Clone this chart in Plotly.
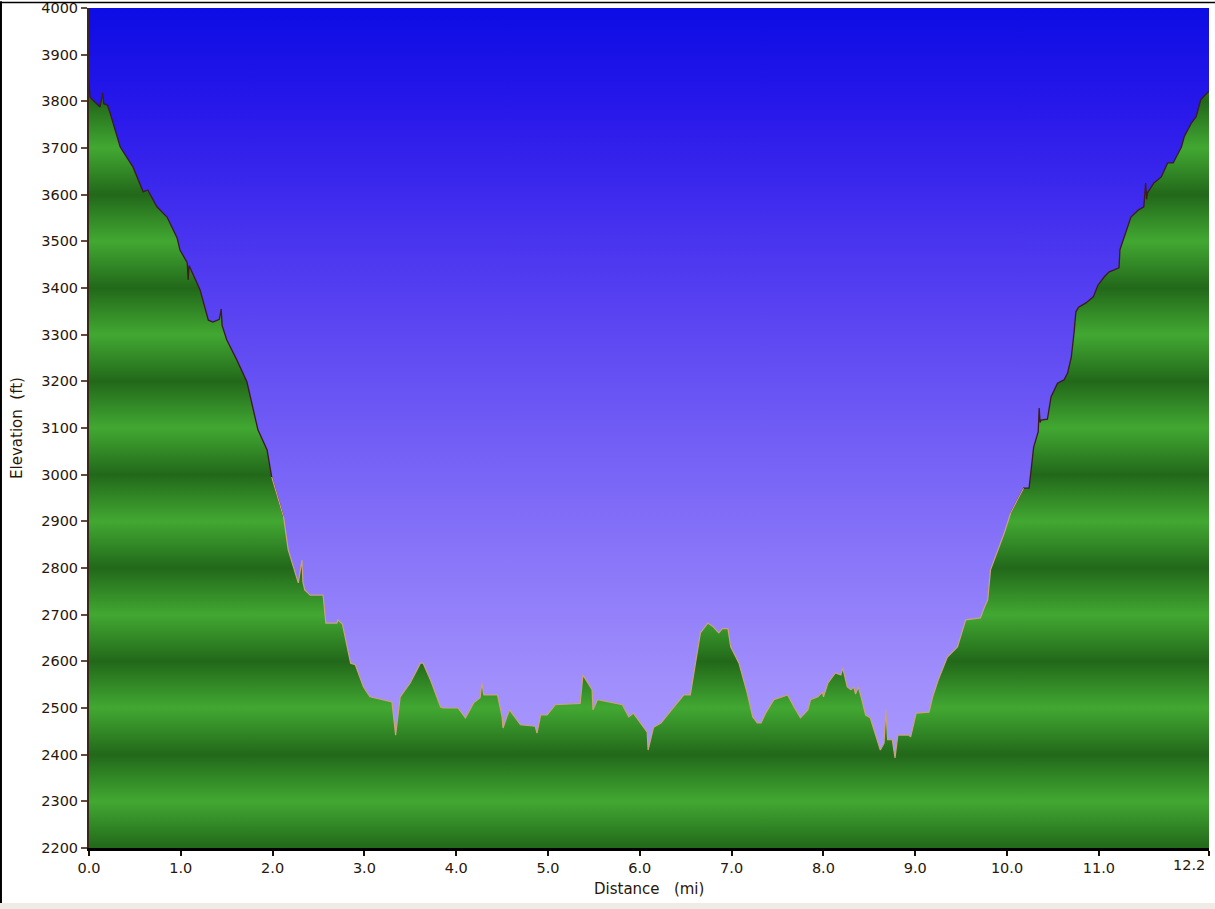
import numpy as np
import plotly.graph_objects as go

# ---------------- data ----------------
distance_mi = [
    0.00, 0.01, 0.12, 0.15, 0.16, 0.20, 0.23, 0.34, 0.48, 0.59, 0.64, 0.74, 0.85, 0.96, 0.99,
    1.07, 1.08, 1.09, 1.21, 1.30, 1.35, 1.42, 1.44, 1.45, 1.50, 1.61, 1.72, 1.84, 1.94, 1.99,
    2.12, 2.17, 2.23, 2.28, 2.32, 2.33, 2.35, 2.41, 2.55, 2.58, 2.70, 2.71, 2.76, 2.79, 2.85,
    2.90, 2.95, 2.99, 3.06, 3.14, 3.30, 3.34, 3.37, 3.39, 3.50, 3.61, 3.64, 3.72, 3.83, 3.86,
    4.02, 4.10, 4.19, 4.26, 4.28, 4.30, 4.34, 4.45, 4.50, 4.51, 4.55, 4.58, 4.70, 4.86, 4.88,
    4.92, 4.99, 5.08, 5.35, 5.38, 5.48, 5.49, 5.54, 5.68, 5.81, 5.88, 5.93, 6.08, 6.09, 6.15,
    6.23, 6.37, 6.48, 6.55, 6.61, 6.66, 6.74, 6.80, 6.86, 6.90, 6.96, 6.99, 7.08, 7.17, 7.23,
    7.28, 7.32, 7.37, 7.46, 7.61, 7.68, 7.75, 7.83, 7.86, 7.94, 7.99, 8.00, 8.05, 8.13, 8.19,
    8.21, 8.26, 8.30, 8.33, 8.35, 8.38, 8.41, 8.46, 8.51, 8.62, 8.66, 8.68, 8.70, 8.75, 8.78,
    8.81, 8.93, 8.95, 9.01, 9.15, 9.19, 9.25, 9.35, 9.46, 9.55, 9.71, 9.75, 9.79, 9.82, 9.97,
    10.04, 10.18, 10.24, 10.26, 10.29, 10.34, 10.35, 10.36, 10.37, 10.44, 10.48, 10.55, 10.62,
    10.66, 10.70, 10.73, 10.75, 10.78, 10.86, 10.94, 10.99, 11.06, 11.11, 11.22, 11.23, 11.24,
    11.35, 11.43, 11.49, 11.51, 11.52, 11.53, 11.60, 11.68, 11.75, 11.81, 11.90, 11.93, 12.01,
    12.06, 12.11, 12.19, 12.20,
]
elevation_ft = [
    3846, 3809, 3788, 3818, 3795, 3792, 3775, 3702, 3659, 3606, 3610, 3574, 3552, 3507, 3482,
    3454, 3417, 3448, 3396, 3331, 3327, 3333, 3355, 3320, 3289, 3246, 3199, 3096, 3053, 2995,
    2909, 2839, 2802, 2768, 2817, 2770, 2753, 2742, 2742, 2682, 2682, 2689, 2680, 2652, 2596,
    2593, 2567, 2545, 2524, 2520, 2513, 2442, 2489, 2524, 2554, 2596, 2596, 2560, 2502, 2500,
    2500, 2479, 2511, 2522, 2554, 2528, 2528, 2528, 2481, 2457, 2480, 2496, 2464, 2461, 2446,
    2485, 2485, 2507, 2510, 2571, 2539, 2496, 2518, 2513, 2507, 2481, 2489, 2448, 2410, 2459,
    2468, 2502, 2528, 2528, 2603, 2661, 2682, 2674, 2661, 2670, 2670, 2631, 2596, 2532, 2481,
    2468, 2468, 2489, 2518, 2528, 2502, 2479, 2496, 2518, 2524, 2534, 2524, 2554, 2575, 2571,
    2586, 2545, 2539, 2545, 2530, 2545, 2524, 2485, 2479, 2410, 2425, 2496, 2432, 2432, 2393,
    2442, 2442, 2438, 2489, 2491, 2524, 2560, 2609, 2631, 2689, 2693, 2714, 2732, 2796, 2875,
    2918, 2971, 2971, 3004, 3059, 3092, 3143, 3112, 3117, 3119, 3167, 3196, 3203,
    3218, 3252, 3304, 3349, 3359, 3368, 3381, 3406, 3424, 3434, 3443, 3482, 3488,
    3552, 3567, 3574, 3625, 3590, 3604, 3625, 3638, 3668, 3668, 3702, 3724, 3754,
    3767, 3803, 3820, 3820,
]

x_tick_vals = [0, 1, 2, 3, 4, 5, 6, 7, 8, 9, 10, 11, 12.2]
x_tick_text = ["0.0", "1.0", "2.0", "3.0", "4.0", "5.0", "6.0", "7.0", "8.0", "9.0",
               "10.0", "11.0", "12.2"]
y_tick_vals = list(range(2200, 4001, 100))

X_MIN, X_MAX = 0.0, 12.2
Y_MIN, Y_MAX = 2200, 4000

FONT = "DejaVu Sans"
TXT = "#2a1606"
TICK_SIZE = 14.5
TITLE_SIZE = 15

# ---------------- colours ----------------
dark_green = "rgb(34,104,26)"
light_green = "rgb(66,168,50)"
band_scale = []
for v in y_tick_vals:
    t = (v - Y_MIN) / (Y_MAX - Y_MIN)
    band_scale.append([t, dark_green if (v // 100) % 2 == 0 else light_green])

sky_scale = [
    [0.00, "#b2a4ff"],
    [0.20, "#a08efc"],
    [0.45, "#7864f6"],
    [0.70, "#4e38f0"],
    [0.88, "#2818ea"],
    [1.00, "#0c0ce4"],
]

x = np.array(distance_mi, dtype=float)
y = np.array(elevation_ft, dtype=float)

fig = go.Figure()

# sky background
fig.add_trace(go.Scatter(
    x=[X_MIN, X_MAX, X_MAX, X_MIN, X_MIN],
    y=[Y_MIN, Y_MIN, Y_MAX, Y_MAX, Y_MIN],
    mode="lines", line=dict(width=0), fill="toself",
    fillgradient=dict(type="vertical", start=Y_MIN, stop=Y_MAX, colorscale=sky_scale),
    hoverinfo="skip", showlegend=False,
))

# terrain fill
fig.add_trace(go.Scatter(
    x=x, y=y, mode="lines", line=dict(width=0), fill="tozeroy",
    fillgradient=dict(type="vertical", start=Y_MIN, stop=Y_MAX, colorscale=band_scale),
    hoverinfo="skip", showlegend=False,
))

# profile edge: dark up high, tan lower down
THR = 2950
hi = y >= THR
hi_ext = hi | np.r_[hi[1:], False] | np.r_[False, hi[:-1]]
lo = ~hi
lo_ext = lo | np.r_[lo[1:], False] | np.r_[False, lo[:-1]]
fig.add_trace(go.Scatter(x=x, y=np.where(hi_ext, y, np.nan), mode="lines",
                         line=dict(color="#3c1c1c", width=1.3), connectgaps=False,
                         hoverinfo="skip", showlegend=False))
fig.add_trace(go.Scatter(x=x, y=np.where(lo_ext, y, np.nan), mode="lines",
                         line=dict(color="#c9a27e", width=1.2), connectgaps=False,
                         hoverinfo="skip", showlegend=False))

# last x tick label is right-aligned at the axis end
shown_text = x_tick_text[:-1] + [""]

fig.update_layout(
    width=1215, height=909,
    margin=dict(l=89, r=6, t=8, b=61, autoexpand=False),
    paper_bgcolor="white", plot_bgcolor="#b2a4ff",
    showlegend=False, hovermode=False,
    font=dict(family=FONT, color=TXT),
    xaxis=dict(
        range=[X_MIN, X_MAX], tickvals=x_tick_vals, ticktext=shown_text,
        ticks="outside", ticklen=5, tickwidth=2, tickcolor="#1a0e06",
        showline=True, linecolor="#000000", linewidth=3,
        showgrid=False, zeroline=False, layer="above traces", automargin=False,
        tickfont=dict(family=FONT, size=TICK_SIZE, color=TXT),
        fixedrange=True,
    ),
    yaxis=dict(
        range=[Y_MIN, Y_MAX], tickvals=y_tick_vals,
        ticks="outside", ticklen=6, tickwidth=2, tickcolor="#6a4a3a",
        showline=True, linecolor="#3a261a", linewidth=2,
        showgrid=True, gridcolor="rgba(25,5,40,0.42)", gridwidth=1,
        zeroline=False, layer="above traces", automargin=False,
        tickfont=dict(family=FONT, size=TICK_SIZE, color=TXT),
        title=dict(text="Elevation\u00a0\u00a0(ft)",
                   font=dict(family=FONT, size=TITLE_SIZE, color=TXT)),
        fixedrange=True,
    ),
    annotations=[
        dict(x=x_tick_vals[-1], y=0, xref="x", yref="paper", text=x_tick_text[-1],
             showarrow=False, xanchor="right", yanchor="top", xshift=-2, yshift=-7,
             font=dict(family=FONT, size=TICK_SIZE, color=TXT)),
        dict(x=0.5, y=0, xref="paper", yref="paper", text="Distance\u00a0\u00a0\u00a0(mi)",
             showarrow=False, xanchor="center", yanchor="middle", yshift=-41,
             font=dict(family=FONT, size=TITLE_SIZE, color=TXT)),
    ],
    shapes=[
        dict(type="line", xref="paper", yref="paper", x0=-0.0786, x1=-0.0786,
             y0=-0.066, y1=1.008, line=dict(color="black", width=2)),
        dict(type="line", xref="paper", yref="paper", x0=-0.0786, x1=1.006,
             y0=1.0065, y1=1.0065, line=dict(color="black", width=1.5)),
        dict(type="rect", xref="paper", yref="paper", x0=-0.08, x1=1.006,
             y0=-0.0728, y1=-0.0655, line=dict(width=0), fillcolor="#efebe7"),
    ],
)

fig.write_html("out.html", config={"displayModeBar": False},
               post_script="document.body.style.margin='0';")
